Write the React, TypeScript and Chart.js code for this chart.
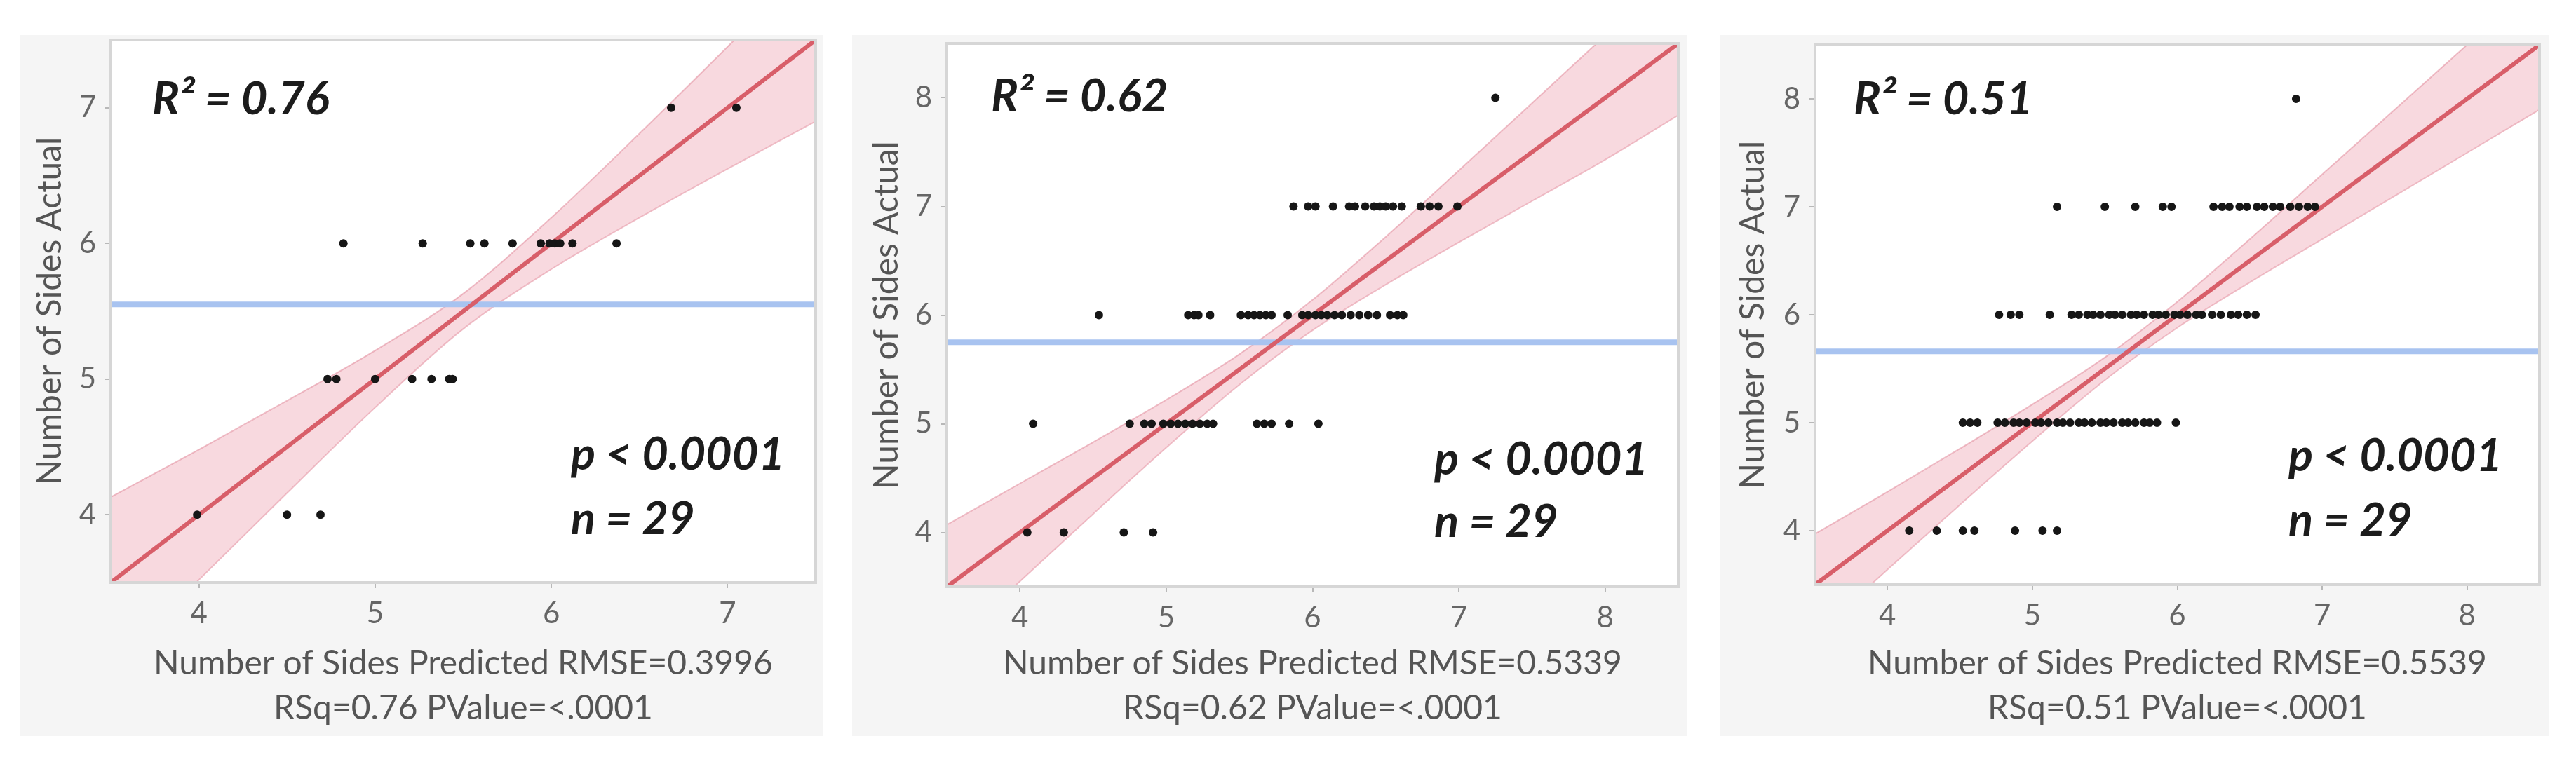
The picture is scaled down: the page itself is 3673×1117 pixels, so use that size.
import React, { useEffect, useRef } from 'react';
import { Chart, registerables } from 'chart.js';

Chart.register(...registerables);

// ---------------- data ----------------
// Panel 1
const p1Range = [3.5, 7.5];
const p1XTicks = [4, 5, 6, 7];
const p1YTicks = [4, 5, 6, 7];
const p1Levels = [7, 6, 5, 4];
const p1Pred7 = [6.68, 7.05];
const p1Pred6 = [4.82, 5.27, 5.54, 5.62, 5.78, 5.94, 5.99, 6.02, 6.05, 6.12, 6.37];
const p1Pred5 = [4.73, 4.78, 5.0, 5.21, 5.32, 5.42, 5.44];
const p1Pred4 = [3.99, 4.5, 4.69];
const p1Mean = 5.55;
const p1Fit = [1, 0];
const p1BandX = [3.5, 4, 4.5, 5, 5.5, 6, 6.5, 7, 7.5];
const p1BandHalf = [0.63, 0.48, 0.34, 0.21, 0.13, 0.19, 0.31, 0.45, 0.6];
const p1Notes = ['R\u00B2 = 0.76', 'p < 0.0001', 'n = 29'];
const p1XTitle = ['Number of Sides Predicted RMSE=0.3996', 'RSq=0.76 PValue=<.0001'];

// Panel 2
const p2Range = [3.5, 8.5];
const p2XTicks = [4, 5, 6, 7, 8];
const p2YTicks = [4, 5, 6, 7, 8];
const p2Levels = [8, 7, 6, 5, 4];
const p2Pred8 = [7.25];
const p2Pred7 = [5.87, 5.97, 6.02, 6.14, 6.25, 6.29, 6.36, 6.42, 6.46, 6.5, 6.55, 6.61, 6.74, 6.8, 6.86, 6.99];
const p2Pred6 = [4.54, 5.15, 5.19, 5.22, 5.3, 5.51, 5.56, 5.6, 5.64, 5.68, 5.72, 5.83, 5.93, 5.97, 6.02, 6.06, 6.1, 6.15, 6.2, 6.26, 6.32, 6.38, 6.44, 6.53, 6.58, 6.62];
const p2Pred5 = [4.09, 4.75, 4.85, 4.9, 4.98, 5.03, 5.08, 5.13, 5.18, 5.23, 5.28, 5.32, 5.62, 5.67, 5.72, 5.84, 6.04];
const p2Pred4 = [4.05, 4.3, 4.71, 4.91];
const p2Mean = 5.75;
const p2Fit = [1, 0];
const p2BandX = [3.5, 4, 4.5, 5, 5.5, 6, 6.5, 7, 7.5, 8, 8.5];
const p2BandHalf = [0.57, 0.45, 0.33, 0.22, 0.14, 0.14, 0.22, 0.33, 0.45, 0.57, 0.66];
const p2Notes = ['R\u00B2 = 0.62', 'p < 0.0001', 'n = 29'];
const p2XTitle = ['Number of Sides Predicted RMSE=0.5339', 'RSq=0.62 PValue=<.0001'];

// Panel 3
const p3Range = [3.5, 8.5];
const p3XTicks = [4, 5, 6, 7, 8];
const p3YTicks = [4, 5, 6, 7, 8];
const p3Levels = [8, 7, 6, 5, 4];
const p3Pred8 = [6.82];
const p3Pred7 = [5.17, 5.5, 5.71, 5.9, 5.96, 6.25, 6.31, 6.36, 6.43, 6.48, 6.55, 6.6, 6.66, 6.71, 6.78, 6.84, 6.9, 6.95];
const p3Pred6 = [4.77, 4.85, 4.91, 5.12, 5.27, 5.32, 5.38, 5.42, 5.47, 5.53, 5.57, 5.62, 5.68, 5.72, 5.77, 5.83, 5.87, 5.92, 5.98, 6.02, 6.07, 6.13, 6.17, 6.24, 6.3, 6.37, 6.42, 6.48, 6.54];
const p3Pred5 = [4.52, 4.57, 4.62, 4.76, 4.81, 4.87, 4.91, 4.96, 5.02, 5.06, 5.11, 5.17, 5.21, 5.26, 5.32, 5.36, 5.41, 5.47, 5.51, 5.56, 5.62, 5.66, 5.71, 5.77, 5.81, 5.86, 5.99];
const p3Pred4 = [4.15, 4.34, 4.52, 4.6, 4.88, 5.07, 5.17];
const p3Mean = 5.66;
const p3Fit = [1, 0];
const p3BandX = [3.5, 4, 4.5, 5, 5.5, 6, 6.5, 7, 7.5, 8, 8.5];
const p3BandHalf = [0.47, 0.36, 0.26, 0.17, 0.105, 0.12, 0.2, 0.3, 0.4, 0.5, 0.6];
const p3Notes = ['R\u00B2 = 0.51', 'p < 0.0001', 'n = 29'];
const p3XTitle = ['Number of Sides Predicted RMSE=0.5539', 'RSq=0.51 PValue=<.0001'];

const yTitle = 'Number of Sides Actual';

// ---------------- layout (positions / sizes) ----------------
const FONT = 'Lato, "Open Sans", sans-serif';

type Layout = {
  left: number; top: number; width: number; height: number;
  chartLeft: number; chartTop: number; chartRight: number; chartBottom: number;
  yTitlePad: number;
  notes: { dx: number; dy: number }[];
};

const layouts: Layout[] = [
  { left: 28, top: 50, width: 1145, height: 1000, chartLeft: 130, chartTop: 7, chartRight: 10, chartBottom: 219, yTitlePad: 15,
    notes: [{ dx: 59, dy: 106 }, { dx: 656, dy: 613 }, { dx: 656, dy: 705 }] },
  { left: 1215, top: 50, width: 1190, height: 1000, chartLeft: 135, chartTop: 12, chartRight: 12, chartBottom: 213, yTitlePad: 21,
    notes: [{ dx: 63, dy: 97 }, { dx: 695, dy: 615 }, { dx: 695, dy: 704 }] },
  { left: 2453, top: 50, width: 1182, height: 1000, chartLeft: 135, chartTop: 14, chartRight: 14, chartBottom: 216, yTitlePad: 18,
    notes: [{ dx: 55, dy: 99 }, { dx: 675, dy: 608 }, { dx: 675, dy: 700 }] },
];

type PanelData = {
  range: number[]; xTicks: number[]; yTicks: number[]; levels: number[]; rows: number[][];
  mean: number; fit: number[]; bandX: number[]; bandHalf: number[]; notes: string[]; xTitle: string[];
};

const panels: PanelData[] = [
  { range: p1Range, xTicks: p1XTicks, yTicks: p1YTicks, levels: p1Levels, rows: [p1Pred7, p1Pred6, p1Pred5, p1Pred4],
    mean: p1Mean, fit: p1Fit, bandX: p1BandX, bandHalf: p1BandHalf, notes: p1Notes, xTitle: p1XTitle },
  { range: p2Range, xTicks: p2XTicks, yTicks: p2YTicks, levels: p2Levels, rows: [p2Pred8, p2Pred7, p2Pred6, p2Pred5, p2Pred4],
    mean: p2Mean, fit: p2Fit, bandX: p2BandX, bandHalf: p2BandHalf, notes: p2Notes, xTitle: p2XTitle },
  { range: p3Range, xTicks: p3XTicks, yTicks: p3YTicks, levels: p3Levels, rows: [p3Pred8, p3Pred7, p3Pred6, p3Pred5, p3Pred4],
    mean: p3Mean, fit: p3Fit, bandX: p3BandX, bandHalf: p3BandHalf, notes: p3Notes, xTitle: p3XTitle },
];

function buildConfig(d: PanelData, L: Layout): any {
  const points: { x: number; y: number }[] = [];
  d.levels.forEach((lvl, i) => d.rows[i].forEach((x) => points.push({ x, y: lvl })));
  const fitY = (x: number) => d.fit[0] * x + d.fit[1];
  const upper = d.bandX.map((x, i) => ({ x, y: fitY(x) + d.bandHalf[i] }));
  const lower = d.bandX.map((x, i) => ({ x, y: fitY(x) - d.bandHalf[i] }));
  const fitLine = d.range.map((x) => ({ x, y: fitY(x) }));
  const meanLine = d.range.map((x) => ({ x, y: d.mean }));

  const framePlugin = {
    id: 'panelFrame',
    beforeDraw(chart: any) {
      const { ctx, chartArea: a } = chart;
      ctx.save();
      ctx.fillStyle = '#ffffff';
      ctx.fillRect(a.left, a.top, a.right - a.left, a.bottom - a.top);
      ctx.restore();
    },
    afterDatasetsDraw(chart: any) {
      const { ctx, chartArea: a } = chart;
      ctx.save();
      ctx.strokeStyle = '#d6d6d6';
      ctx.lineWidth = 4;
      ctx.strokeRect(a.left, a.top, a.right - a.left, a.bottom - a.top);
      ctx.fillStyle = '#1c1c1c';
      ctx.font = `italic 700 65px ${FONT}`;
      ctx.textBaseline = 'alphabetic';
      ctx.textAlign = 'left';
      d.notes.forEach((t, i) => {
        ctx.fillText(t, a.left + L.notes[i].dx, a.top + L.notes[i].dy);
      });
      ctx.restore();
    },
  };

  const bandEdge = 'rgba(224,130,148,0.5)';
  return {
    type: 'line',
    data: {
      datasets: [
        { label: 'points', data: points, showLine: false, pointRadius: 6, pointBackgroundColor: '#161616', pointBorderWidth: 0, order: 0 },
        { label: 'fit', data: fitLine, borderColor: '#d85e69', borderWidth: 6, pointRadius: 0, order: 1 },
        { label: 'mean', data: meanLine, borderColor: '#a8c3f0', borderWidth: 8, pointRadius: 0, order: 2 },
        { label: 'upper', data: upper, borderColor: bandEdge, borderWidth: 2, pointRadius: 0, fill: '+1',
          backgroundColor: 'rgba(238,160,175,0.4)', cubicInterpolationMode: 'monotone', order: 3 },
        { label: 'lower', data: lower, borderColor: bandEdge, borderWidth: 2, pointRadius: 0, fill: false,
          cubicInterpolationMode: 'monotone', order: 4 },
      ],
    },
    options: {
      animation: false,
      responsive: false,
      devicePixelRatio: 1,
      events: [],
      layout: { padding: { left: 0, top: L.chartTop, right: L.chartRight, bottom: 0 } },
      plugins: { legend: { display: false }, tooltip: { enabled: false } },
      scales: {
        x: {
          type: 'linear', position: 'bottom', min: d.range[0], max: d.range[1],
          border: { display: false },
          grid: { display: true, drawOnChartArea: false, drawTicks: true, tickLength: 8, color: '#b8b8b8', lineWidth: 2 },
          ticks: { font: { family: FONT, size: 42 }, color: '#666666', padding: 11, callback: (v: any) => String(v) },
          title: { display: true, text: d.xTitle, color: '#555555', font: { family: FONT, size: 48, lineHeight: 64 / 48 }, padding: { top: 0, bottom: 7 } },
          afterBuildTicks: (s: any) => { s.ticks = d.xTicks.map((v) => ({ value: v })); },
          afterFit: (s: any) => { s.height = L.chartBottom; s.paddingLeft = 0; s.paddingRight = 0; },
        },
        y: {
          type: 'linear', position: 'left', min: d.range[0], max: d.range[1],
          border: { display: false },
          grid: { display: true, drawOnChartArea: false, drawTicks: true, tickLength: 8, color: '#b8b8b8', lineWidth: 2 },
          ticks: { font: { family: FONT, size: 42 }, color: '#666666', padding: 13, callback: (v: any) => String(v) },
          title: { display: true, text: yTitle, color: '#555555', font: { family: FONT, size: 48 }, padding: { top: L.yTitlePad, bottom: 0 } },
          afterBuildTicks: (s: any) => { s.ticks = d.yTicks.map((v) => ({ value: v })); },
          afterFit: (s: any) => { s.width = L.chartLeft; s.paddingTop = 0; s.paddingBottom = 0; },
        },
      },
    },
    plugins: [framePlugin],
  };
}

function Panel({ d, L }: { d: PanelData; L: Layout }) {
  const ref = useRef<HTMLCanvasElement>(null);
  useEffect(() => {
    const chart = new Chart(ref.current as HTMLCanvasElement, buildConfig(d, L));
    return () => chart.destroy();
  }, []);
  return (
    <div style={{ position: 'absolute', left: L.left, top: L.top, width: L.width, height: L.height, background: '#f5f5f5' }}>
      <canvas ref={ref} width={L.width} height={L.height} style={{ display: 'block', width: L.width, height: L.height }} />
    </div>
  );
}

export default function App() {
  return (
    <div style={{ position: 'absolute', left: 0, top: 0, width: 3673, height: 1117, background: '#ffffff', overflow: 'hidden' }}>
      {panels.map((d, i) => (
        <Panel key={i} d={d} L={layouts[i]} />
      ))}
    </div>
  );
}
